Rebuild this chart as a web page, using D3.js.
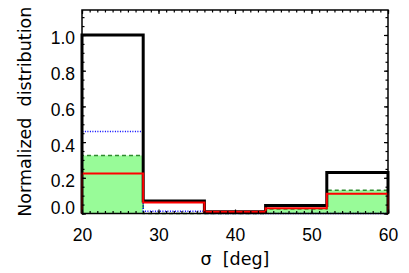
<!DOCTYPE html>
<html>
<head>
<meta charset="utf-8">
<script src="https://cdn.jsdelivr.net/npm/d3@7"></script>
<style>
  body { margin: 0; background: #fff; }
  svg { display: block; font-family: "DejaVu Sans", sans-serif; }
</style>
</head>
<body>
<svg id="chart"></svg>
<script>
const width = 409;
const height = 273;

// bin edges in sigma [deg]
const binEdges = [20, 28, 36, 44, 52, 60];
// normalized distributions, one value per bin
const allValues = [1.0, 0.07, 0.01, 0.045, 0.23];
const blueValues = [0.46, 0.012, 0.0, 0.0, 0.0];
const greenValues = [0.325, 0.0, 0.0, 0.025, 0.13];
const redValues = [0.224, 0.062, 0.01, 0.03, 0.11];

const xTicks = [20, 30, 40, 50, 60];
const yTicks = [0.0, 0.2, 0.4, 0.6, 0.8, 1.0];

const plotLeft = 82, plotRight = 388, plotTop = 10, plotBottom = 213.5;

const x = d3.scaleLinear().domain([20, 60]).range([plotLeft, plotRight]);
const y = d3.scaleLinear().domain([0, 1.14]).range([plotBottom, plotTop]);

const svg = d3.select('#chart')
  .attr('width', width)
  .attr('height', height)
  .attr('viewBox', `0 0 ${width} ${height}`);

// turn bin values into a closed histogram step outline
function steps(vals) {
  const pts = [[binEdges[0], 0]];
  vals.forEach((v, i) => {
    pts.push([binEdges[i], v]);
    pts.push([binEdges[i + 1], v]);
  });
  pts.push([binEdges[binEdges.length - 1], 0]);
  return pts;
}

const line = d3.line().x(d => x(d[0])).y(d => y(d[1]));
const area = d3.area().x(d => x(d[0])).y0(y(0)).y1(d => y(d[1]));

// green filled histogram
svg.append('path')
  .attr('d', area(steps(greenValues)))
  .style('fill', '#98fb98')
  .style('stroke', 'none');

svg.append('path')
  .attr('d', line(steps(greenValues)))
  .style('fill', 'none')
  .style('stroke', '#2e8b2e')
  .style('stroke-width', 1.5)
  .style('stroke-dasharray', '4,3');

svg.append('path')
  .attr('d', line(steps(blueValues)))
  .style('fill', 'none')
  .style('stroke', '#0000ff')
  .style('stroke-width', 1.5)
  .style('stroke-dasharray', '1,1.5');

svg.append('path')
  .attr('d', line(steps(allValues)))
  .style('fill', 'none')
  .style('stroke', '#000')
  .style('stroke-width', 3);

svg.append('path')
  .attr('d', line(steps(redValues)))
  .style('fill', 'none')
  .style('stroke', '#ff0000')
  .style('stroke-width', 2);

// inward ticks on all four sides
const xMinor = d3.range(20, 61, 1);
const yMinor = d3.range(0, 1.14, 0.05);

function addAxis(axisFn, scale, pos, vals, size) {
  const g = svg.append('g')
    .attr('transform', pos)
    .call(axisFn(scale).tickValues(vals).tickSize(size).tickFormat(''));
  g.select('.domain').remove();
  g.selectAll('line').style('stroke', '#000').style('stroke-width', 1.2);
  return g;
}

const xFmt = d3.format('d');
const yFmt = d3.format('.1f');

const gb = svg.append('g')
  .attr('transform', `translate(0,${plotBottom})`)
  .call(d3.axisBottom(x).tickValues(xTicks).tickSize(-4).tickFormat(xFmt));
gb.select('.domain').remove();
gb.selectAll('line').style('stroke', '#000').style('stroke-width', 1.2);
gb.selectAll('text').attr('y', 27.5).attr('dy', 0)
  .style('font-size', '17.5px').style('fill', '#000');

const gl = svg.append('g')
  .attr('transform', `translate(${plotLeft},0)`)
  .call(d3.axisLeft(y).tickValues(yTicks).tickSize(-4).tickFormat(yFmt));
gl.select('.domain').remove();
gl.selectAll('line').style('stroke', '#000').style('stroke-width', 1.2);
// the bottom label sits raised so it clears the axis line
gl.selectAll('text').attr('x', -7).attr('dy', d => d === 0 ? 0 : 9)
  .style('font-size', '17.5px').style('fill', '#000');

addAxis(d3.axisTop, x, `translate(0,${plotTop})`, xTicks, -4);
addAxis(d3.axisRight, y, `translate(${plotRight},0)`, yTicks, -4);
addAxis(d3.axisBottom, x, `translate(0,${plotBottom})`, xMinor, -2.5);
addAxis(d3.axisTop, x, `translate(0,${plotTop})`, xMinor, -2.5);
addAxis(d3.axisLeft, y, `translate(${plotLeft},0)`, yMinor, -2.5);
addAxis(d3.axisRight, y, `translate(${plotRight},0)`, yMinor, -2.5);

// plot frame
svg.append('rect')
  .attr('x', plotLeft).attr('y', plotTop)
  .attr('width', plotRight - plotLeft).attr('height', plotBottom - plotTop)
  .style('fill', 'none')
  .style('stroke', '#000')
  .style('stroke-width', 1.5);

// axis titles
svg.append('text')
  .attr('x', (plotLeft + plotRight) / 2)
  .attr('y', 265)
  .attr('text-anchor', 'middle')
  .style('font-size', '17.5px')
  .style('white-space', 'pre')
  .text('σ  [deg]');

svg.append('text')
  .attr('transform', `translate(30.5,${(plotTop + plotBottom) / 2}) rotate(-90)`)
  .attr('text-anchor', 'middle')
  .style('font-size', '17.5px')
  .style('white-space', 'pre')
  .text('Normalized  distribution');
</script>
</body>
</html>
